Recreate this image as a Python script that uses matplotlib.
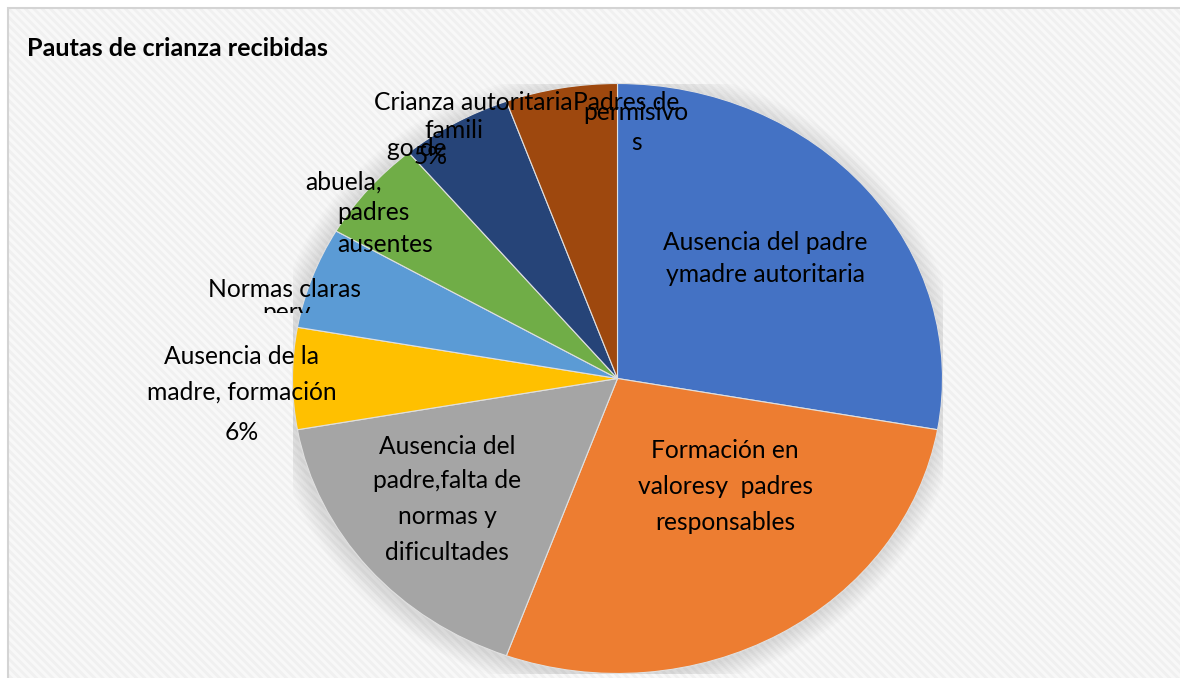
import matplotlib.pyplot as plt
from matplotlib.patches import Rectangle, Ellipse
from matplotlib.font_manager import FontProperties
from matplotlib.textpath import TextPath

W, H = 1180, 678

categories = [
    'Ausencia del padre y madre autoritaria',
    'Formación en valores y padres responsables',
    'Ausencia del padre, falta de normas y dificultades',
    'Ausencia de la madre, formación',
    'Normas claras',
    'Crianza a cargo de abuela, padres ausentes',
    'Crianza autoritaria familiar',
    'Padres permisivos',
]
counts = [5, 5, 3, 1, 1, 1, 1, 1]
colors = ['#4472C4', '#ED7D31', '#A5A5A5', '#FFC000',
          '#5B9BD5', '#70AD47', '#264478', '#9E480E']

title = 'Pautas de crianza recibidas'

# visible (truncated) data label lines, as Excel drew them
label_lines = [
    ('Ausencia del padre', 765, 242), ('ymadre autoritaria', 765, 275),
    ('Formación en', 725, 451), ('valoresy  padres', 725, 487), ('responsables', 725, 522),
    ('Ausencia del', 447, 446), ('padre,falta de', 447, 481),
    ('normas y', 447, 517), ('dificultades', 447, 552),
    ('Ausencia de la', 242, 357), ('madre, formación', 242, 392), ('6%', 242, 433),
    ('Normas claras', 284, 290),
    ('abuela,', 344, 182), ('padres', 373, 213), ('ausentes', 385, 245),
    ('go de', 417, 148), ('5%', 431, 157),
    ('Crianza autoritaria', 473, 102), ('famili', 454, 130),
    ('Padres de', 626, 102), ('permisivo', 636, 113), ('s', 637, 142),
]


def fx(x):
    return x / W


def fy(y):
    return 1 - y / H


fig = plt.figure(figsize=(W / 100, H / 100), dpi=100)
fig.patch.set_facecolor('white')

# chart area with light diagonal pattern
plt.rcParams['hatch.linewidth'] = 2.0
bg = Rectangle((fx(8), -0.1), 1.2, fy(8) + 0.1, transform=fig.transFigure,
               facecolor='#F8F8F8', edgecolor='#F0F0F0', hatch='\\\\\\\\', lw=0, zorder=-3)
fig.patches.append(bg)
frame = Rectangle((fx(8), -0.1), 1.2, fy(8) + 0.1, transform=fig.transFigure,
                  facecolor='none', edgecolor='#D4D4D4', lw=1.5, zorder=-2)
fig.patches.append(frame)

# pie axes (Excel stretched the pie into an ellipse)
cx, cy, rx, ry = 617.5, 378.5, 325, 295
ax = fig.add_axes([fx(cx - rx), fy(cy + ry), 2 * rx / W, 2 * ry / H])
ax.set_facecolor('none')

# soft shadow round the pie
for k in range(10, 0, -1):
    ax.add_patch(Ellipse((-0.006, -0.008), 2 + k * 0.013, 2 + k * 0.014,
                         facecolor='#000000', alpha=0.013, lw=0, zorder=0))

ax.pie(counts, colors=colors, startangle=90, counterclock=False,
       wedgeprops=dict(linewidth=0.8, edgecolor='#E0E0E0'))
ax.set_aspect('auto')
ax.set_xlim(-1, 1)
ax.set_ylim(-1, 1)
ax.axis('off')

# fonts sized to match the reference text widths
lab_fp = FontProperties(family='Lato')
w10 = TextPath((0, 0), 'Ausencia del padre', size=10, prop=lab_fp).get_extents().width
lab_size = 10 * 204 / (w10 * 100 / 72)
tit_fp = FontProperties(family='Lato', weight='bold')
w10 = TextPath((0, 0), title, size=10, prop=tit_fp).get_extents().width
tit_size = 10 * 298 / (w10 * 100 / 72)

fig.text(fx(27), fy(48), title, fontproperties=tit_fp, fontsize=tit_size,
         ha='left', va='center', color='#000000')

for txt, x, y in label_lines:
    fig.text(fx(x), fy(y), txt, fontproperties=lab_fp, fontsize=lab_size,
             ha='center', va='center', color='#000000')

# clipped second line of the "Normas claras" label
t = fig.text(fx(286), fy(320), 'pery', fontproperties=lab_fp, fontsize=lab_size,
             ha='center', va='baseline', color='#000000')
clip = Rectangle((0, fy(313)), 1, 0.3, transform=fig.transFigure)
t.set_clip_path(clip)

fig.savefig('out.png', dpi=100)
